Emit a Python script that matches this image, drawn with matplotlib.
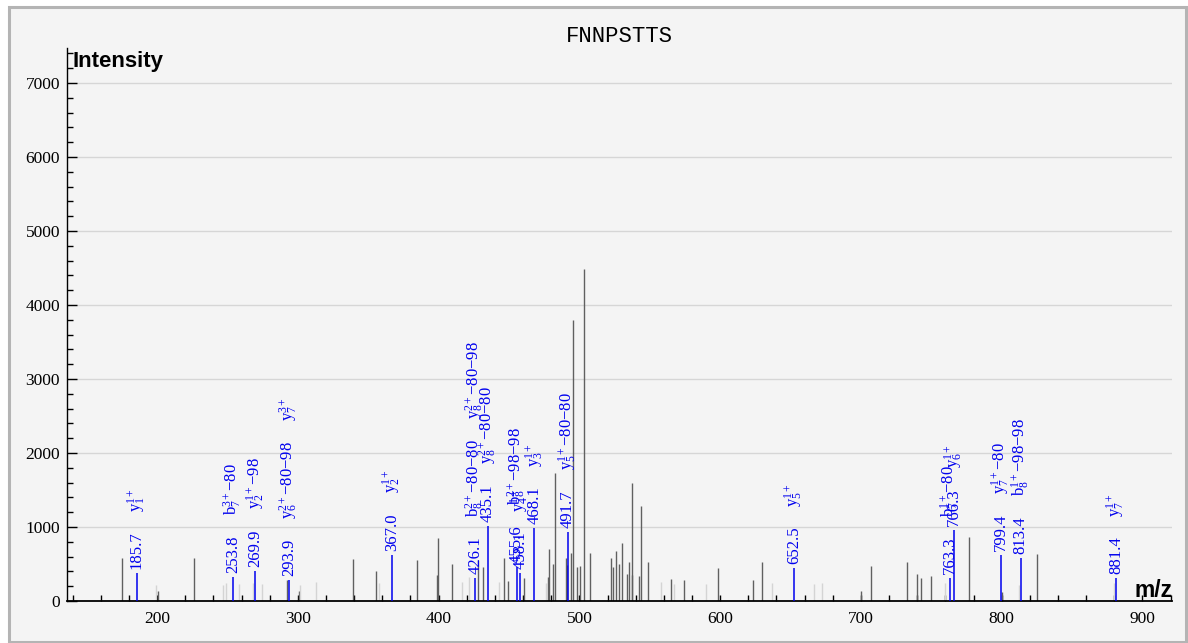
import matplotlib
matplotlib.use("Agg")
import matplotlib.pyplot as plt
from matplotlib.patches import Rectangle
from matplotlib.ticker import MultipleLocator

plt.rcParams["font.family"] = ["Liberation Serif", "DejaVu Serif"]
plt.rcParams["mathtext.fontset"] = "custom"
plt.rcParams["mathtext.rm"] = "Liberation Serif"
plt.rcParams["mathtext.it"] = "Liberation Serif:italic"
plt.rcParams["mathtext.default"] = "regular"

# ---- data ----
peptide = "FNNPSTTS"

# unannotated peaks: m/z, intensity, kind ('d' = regular, 'l' = faint)
peak_mz = [174.9, 199.5, 200.5, 226.3, 246.5, 249.3, 258.3, 268.2, 274.2, 292.0,
           300.7, 301.4, 312.6, 339.3, 355.3, 357.4, 384.4, 398.6, 399.3, 409.2,
           416.3, 421.8, 427.7, 431.7, 443.0, 446.4, 449.6, 460.5, 476.3, 477.9,
           478.6, 481.3, 482.6, 490.5, 491.0, 494.2, 495.8, 498.6, 500.5, 503.5,
           507.5, 522.3, 524.0, 525.9, 528.0, 530.5, 533.6, 535.5, 537.2, 537.6,
           542.6, 543.6, 548.5, 557.8, 564.9, 567.0, 574.6, 589.8, 598.7, 623.6,
           629.8, 636.7, 666.7, 672.6, 700.2, 707.0, 732.6, 739.7, 742.8, 749.7,
           759.8, 776.5, 800.4, 812.0, 825.0, 879.7]
peak_int = [575, 210, 135, 580, 215, 240, 230, 240, 230, 285,
            140, 215, 255, 563, 405, 245, 554, 350, 847, 495,
            260, 330, 554, 455, 260, 577, 275, 305, 250, 320,
            700, 495, 1725, 575, 480, 645, 3797, 455, 473, 4482,
            645, 580, 455, 680, 500, 790, 365, 522, 351, 1600,
            338, 1283, 531, 260, 293, 230, 284, 225, 442, 280,
            523, 247, 230, 247, 140, 473, 531, 360, 315, 338,
            247, 869, 125, 216, 631, 240]
peak_kind = ["d", "l", "d", "d", "l", "l", "l", "l", "l", "d",
             "d", "l", "l", "d", "d", "l", "d", "d", "d", "d",
             "l", "l", "d", "d", "l", "d", "d", "d", "l", "d",
             "d", "d", "d", "d", "d", "d", "d", "d", "d", "d",
             "d", "d", "d", "d", "d", "d", "d", "d", "d", "d",
             "d", "d", "d", "l", "d", "l", "d", "l", "d", "d",
             "d", "l", "l", "l", "d", "d", "d", "d", "d", "d",
             "l", "d", "d", "l", "d", "l"]

# annotated (matched) peaks
ion_mz = [185.7, 253.8, 269.9, 293.9, 367.0, 426.1, 435.1, 455.6, 458.1,
          468.1, 491.7, 652.5, 763.3, 766.3, 799.4, 813.4, 881.4]
ion_int = [375, 330, 410, 285, 622, 305, 1020, 465, 375,
           983, 937, 441, 306, 960, 620, 585, 306]
ion_labels = [
    ["y$_1^{1+}$"],
    ["b$_7^{3+}$−80"],
    ["y$_2^{1+}$−98"],
    ["y$_6^{2+}$−80−98", "y$_7^{3+}$"],
    ["y$_2^{1+}$"],
    ["b$_8^{2+}$−80−80", "y$_8^{2+}$−80−98"],
    ["y$_8^{2+}$−80−80"],
    ["b$_8^{2+}$−98−98"],
    ["y$_4^{1+}$"],
    ["y$_3^{1+}$"],
    ["y$_5^{1+}$−80−80"],
    ["y$_5^{1+}$"],
    ["b$_7^{1+}$−80"],
    ["y$_6^{1+}$"],
    ["y$_7^{1+}$−80"],
    ["b$_8^{1+}$−98−98"],
    ["y$_7^{1+}$"],
]

kind_color = {"d": "#606060", "l": "#d4d4d4"}
blue = "#0000ee"

W, H, DPI = 1188, 643, 100
fig = plt.figure(figsize=(W / DPI, H / DPI), dpi=DPI, facecolor="white")
fig.patches.append(Rectangle((9 / W, 1 / H), 1177 / W, 635 / H, transform=fig.transFigure,
                             facecolor="#f4f4f4", edgecolor="#b4b4b4", linewidth=2.2, zorder=-10))

ax = fig.add_axes([67 / W, 1 - 601 / H, (1172 - 67) / W, (601 - 48) / H])
ax.set_facecolor("none")
ax.set_xlim(136, 921)
ax.set_ylim(0, 7473)

ax.vlines(peak_mz, 0, peak_int, colors=[kind_color[k] for k in peak_kind], linewidth=1.0, zorder=2)
ax.vlines(ion_mz, 0, ion_int, colors=blue, linewidth=1.1, zorder=3)

for s in ["top", "right"]:
    ax.spines[s].set_visible(False)
ax.spines["left"].set_linewidth(1.0)
ax.spines["bottom"].set_linewidth(1.3)

ax.yaxis.set_major_locator(MultipleLocator(1000))
ax.yaxis.set_minor_locator(MultipleLocator(200))
ax.xaxis.set_major_locator(MultipleLocator(100))
ax.xaxis.set_minor_locator(MultipleLocator(20))
ax.tick_params(axis="y", which="major", direction="in", length=7, width=1, labelsize=12.5, pad=5)
ax.tick_params(axis="y", which="minor", direction="in", length=4.2, width=1)
ax.tick_params(axis="x", which="both", direction="in", length=4.3, width=1, labelsize=12.5, pad=7)
ax.grid(axis="y", which="major", color="#d6d6d6", linewidth=1.0, zorder=0)
ax.set_axisbelow(True)

ax.set_title(peptide, fontfamily="Liberation Mono", fontsize=16, pad=4)
fig.text(73 / W, 1 - 62 / H, "Intensity", fontfamily="Liberation Sans", fontweight="bold",
         fontsize=16, va="center", ha="left")
fig.text(1173 / W, 1 - 597 / H, "m/z", fontfamily="Liberation Sans", fontweight="bold",
         fontsize=16.5, va="baseline", ha="right")

# annotation labels: number just above the peak, fragment names stacked above
fig.canvas.draw()
renderer = fig.canvas.get_renderer()
px2pt = 72.0 / DPI
for mz, inten, frags in zip(ion_mz, ion_int, ion_labels):
    base_y = ax.transData.transform((mz, inten))[1]
    offset = 4
    texts = [f"{mz:.1f}"] + frags
    for txt in texts:
        t = ax.annotate(txt, xy=(mz, inten), xytext=(0, offset * px2pt), textcoords="offset points",
                        rotation=90, ha="center", va="bottom", color=blue, fontsize=12, zorder=4)
        bb = t.get_window_extent(renderer)
        offset = bb.y1 - base_y + 20

fig.savefig("out.png", dpi=DPI, facecolor=fig.get_facecolor())
